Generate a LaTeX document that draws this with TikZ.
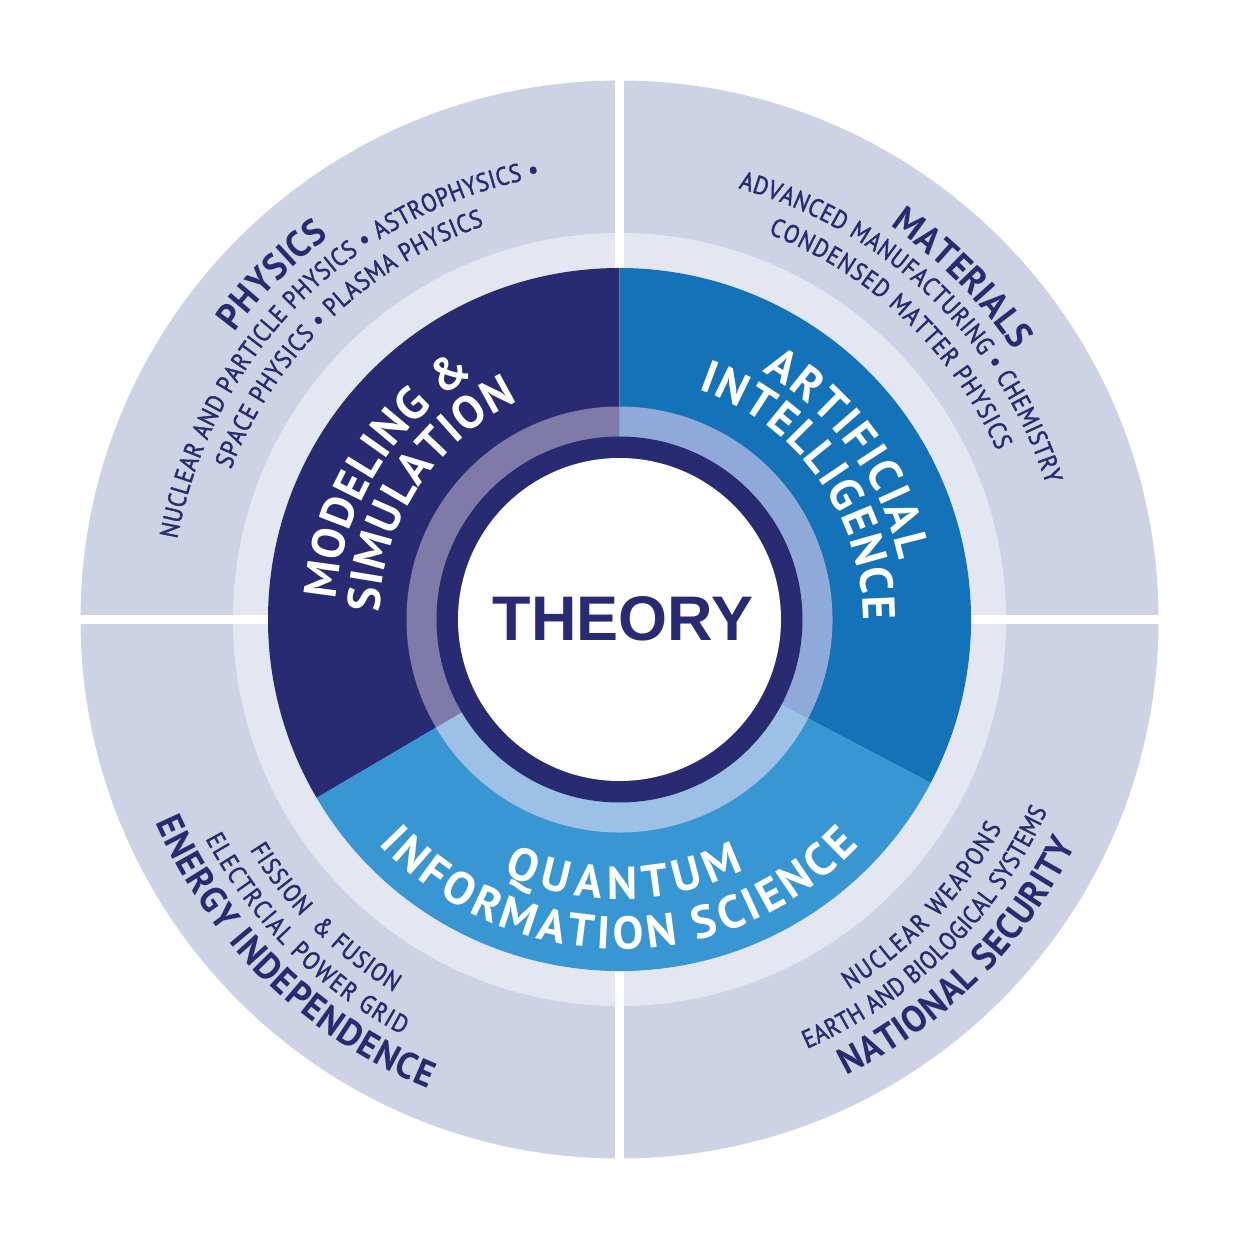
\documentclass[tikz,border=0pt]{standalone}
\usepackage{fontspec}
\setmainfont{PT Sans}
\newfontfamily\theoryfont{Liberation Sans}
\newfontfamily\smallfam{PT Sans}[FakeStretch=0.88, FakeBold=1.6]
\newfontfamily\headfam{PT Sans}[FakeStretch=0.95]
\usetikzlibrary{decorations.text}
\definecolor{outerq}{RGB}{205,210,228}
\definecolor{lightring}{RGB}{228,231,242}
\definecolor{navy}{RGB}{40,42,114}
\definecolor{aiblue}{RGB}{20,114,184}
\definecolor{qisblue}{RGB}{56,151,211}
\definecolor{msring}{RGB}{127,122,168}
\definecolor{airing}{RGB}{143,170,216}
\definecolor{qisring}{RGB}{157,193,230}
\newcommand\secfont{\fontsize{46}{50}\selectfont\bfseries}
\newcommand\headfont{\headfam\fontsize{37}{40}\selectfont\bfseries}
\newcommand\smallfont{\smallfam\fontsize{25.5}{28}\selectfont}
\tikzset{
  curvetext/.style 2 args={decorate, decoration={text along path, text={#2}, text align={fit to path}, text color=#1}},
  gapline/.style={white, line width=9pt}
}
\begin{document}
\begin{tikzpicture}[x=1pt,y=1pt]
\useasboundingbox (-619.5,-625.5) rectangle (625.5,619.5);
\fill[white] (-619.5,-625.5) rectangle (625.5,619.5);
% outer quadrants and light ring
\fill[outerq] (0,0) circle[radius=539];
\fill[lightring] (0,0) circle[radius=386.5];
\draw[gapline] (-545,0) -- (545,0);
\draw[gapline] (0,-545) -- (0,545);
% main sectors
\fill[navy] (0,0) -- (90:351.5) arc[start angle=90,end angle=210.5,radius=351.5] -- cycle;
\fill[aiblue] (0,0) -- (-27.7:351.5) arc[start angle=-27.7,end angle=90,radius=351.5] -- cycle;
\fill[qisblue] (0,0) -- (210.5:351.5) arc[start angle=210.5,end angle=332.3,radius=351.5] -- cycle;
% inner rings
\fill[msring] (0,0) -- (90:213) arc[start angle=90,end angle=210.5,radius=213] -- cycle;
\fill[airing] (0,0) -- (-27.7:213) arc[start angle=-27.7,end angle=90,radius=213] -- cycle;
\fill[qisring] (0,0) -- (210.5:213) arc[start angle=210.5,end angle=332.3,radius=213] -- cycle;
\fill[navy] (0,0) circle[radius=183];
\fill[white] (0,0) circle[radius=161.5];
\node[font=\theoryfont\fontsize{63}{63}\selectfont\bfseries, text=navy, anchor=base, inner sep=0pt] (theory) at (3.5,-20.5) {THEORY};
% sector texts
\path[curvetext={white}{|\secfont|MODELING {\&}}] (176:284) arc[start angle=176,end angle=121,radius=284];
\path[curvetext={white}{|\secfont|SIMULATION}] (178.3:240) arc[start angle=178.3,end angle=115,radius=240];
\path[curvetext={white}{|\secfont|ARTIFICIAL}] (60:286) arc[start angle=60,end angle=12,radius=286];
\path[curvetext={white}{|\secfont|INTELLIGENCE}] (71:243.5) arc[start angle=71,end angle=-0.3,radius=243.5];
\path[curvetext={white}{|\secfont|QUANTUM}] (245.6:279.5) arc[start angle=245.6,end angle=296.5,radius=279.5];
\path[curvetext={white}{|\secfont|INFORMATION SCIENCE}] (223:329.5) arc[start angle=223,end angle=316.7,radius=329.5];
% outer texts
\path[curvetext={navy}{|\headfont|PHYSICS}] (143.3:480.5) arc[start angle=143.3,end angle=127.2,radius=480.5];
\path[curvetext={navy}{|\smallfont|NUCLEAR AND PARTICLE PHYSICS {•} ASTROPHYSICS {•}}] (169.7:449.5) arc[start angle=169.7,end angle=100.3,radius=449.5];
\path[curvetext={navy}{|\smallfont|SPACE PHYSICS {•} PLASMA PHYSICS}] (158.9:416.5) arc[start angle=158.9,end angle=109,radius=416.5];
\path[curvetext={navy}{|\headfont|MATERIALS}] (55.5:477.5) arc[start angle=55.5,end angle=34.5,radius=477.5];
\path[curvetext={navy}{|\smallfont|ADVANCED MANUFACTURING {•} CHEMISTRY}] (74.6:447.5) arc[start angle=74.6,end angle=17.6,radius=447.5];
\path[curvetext={navy}{|\smallfont|CONDENSED MATTER PHYSICS}] (68.9:413.5) arc[start angle=68.9,end angle=24.1,radius=413.5];
\path[curvetext={navy}{|\headfont|ENERGY INDEPENDENCE}] (203.6:506.5) arc[start angle=203.6,end angle=247.8,radius=506.5];
\path[curvetext={navy}{|\smallfont|ELECTRCIAL POWER GRID}] (207.9:468.5) arc[start angle=207.9,end angle=242.4,radius=468.5];
\path[curvetext={navy}{|\smallfont|FISSION {~}{\&} FUSION}] (211.9:435.5) arc[start angle=211.9,end angle=238.8,radius=435.5];
\path[curvetext={navy}{|\headfont|NATIONAL SECURITY}] (-63.6:509.5) arc[start angle=-63.6,end angle=-26.3,radius=509.5];
\path[curvetext={navy}{|\smallfont|EARTH AND BIOLOGICAL SYSTEMS}] (-66.4:468.5) arc[start angle=-66.4,end angle=-24.1,radius=468.5];
\path[curvetext={navy}{|\smallfont|NUCLEAR WEAPONS}] (-58.2:435.5) arc[start angle=-58.2,end angle=-28.6,radius=435.5];
\end{tikzpicture}
\end{document}
